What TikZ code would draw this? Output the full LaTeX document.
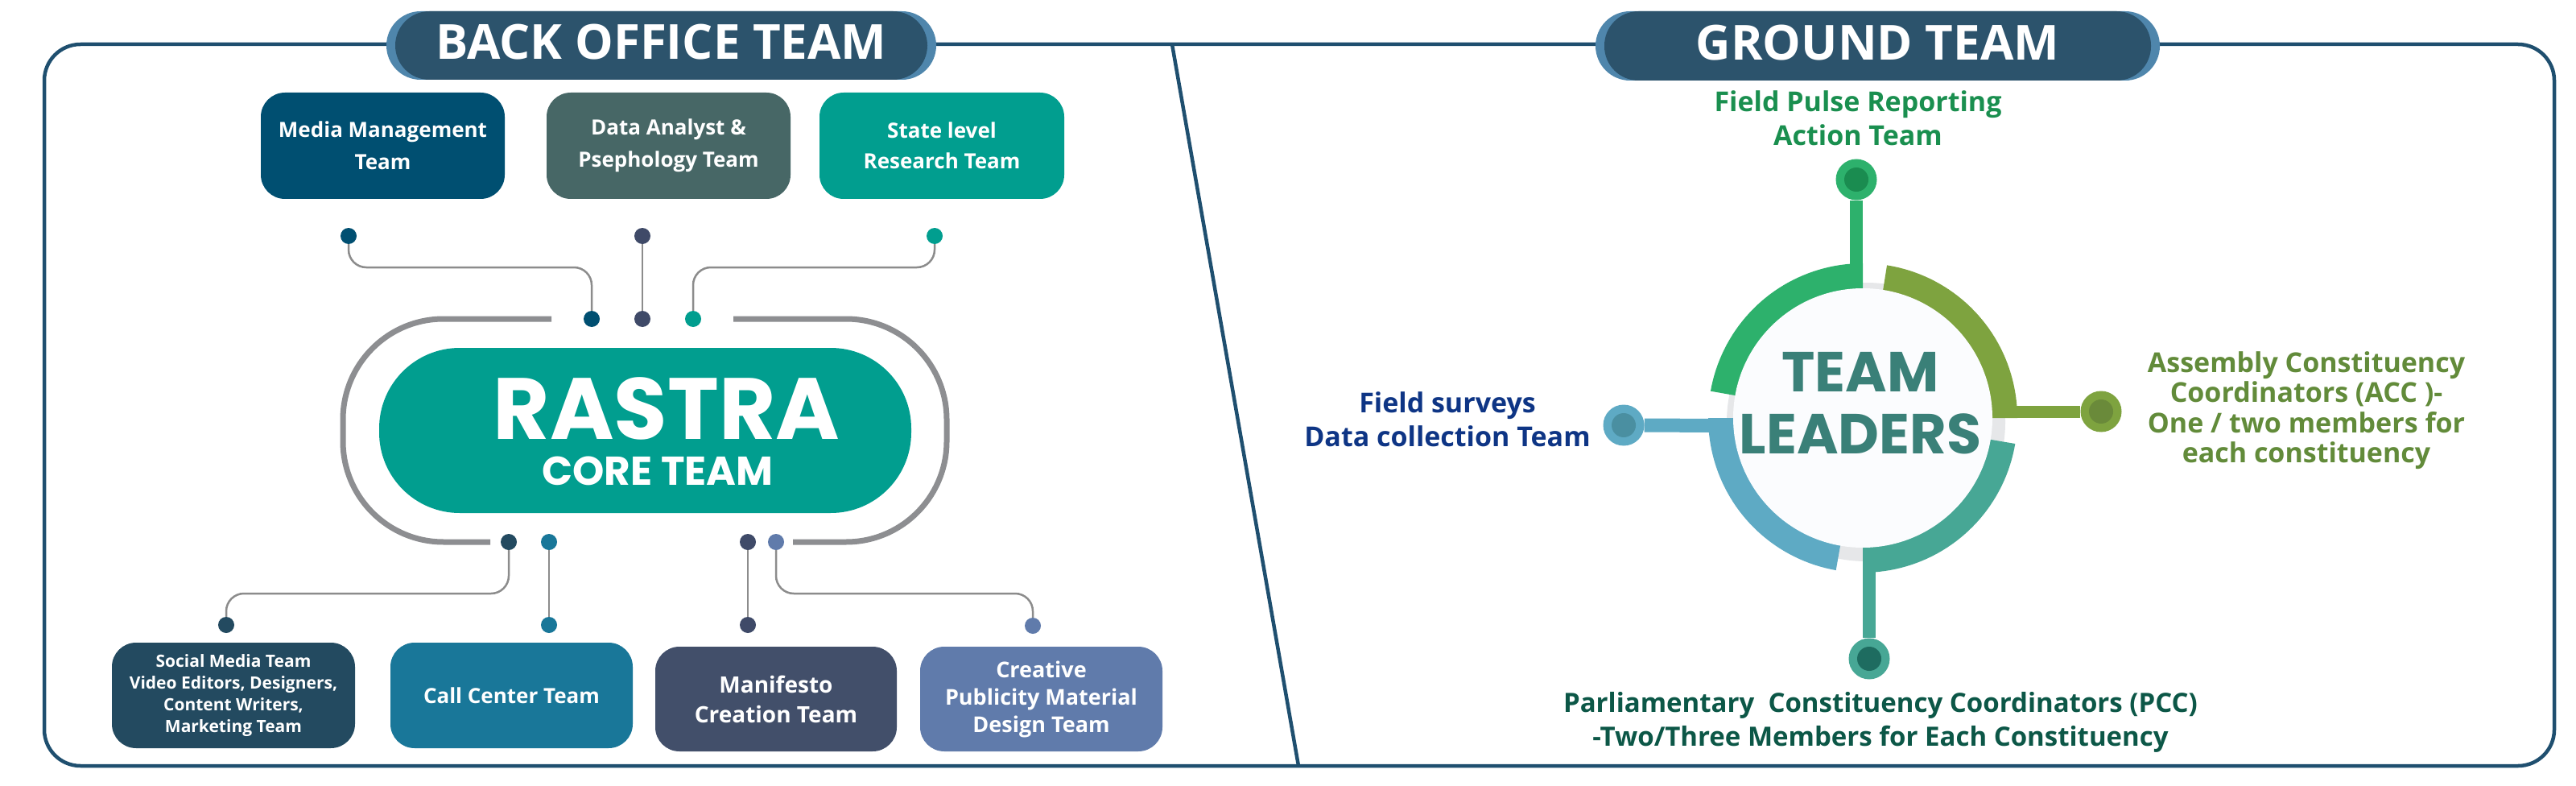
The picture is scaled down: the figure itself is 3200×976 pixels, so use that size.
\documentclass[tikz,border=0pt]{standalone}
\usepackage{fontspec}
\setmainfont{Open Sans}
\newfontfamily\poppins{Poppins}
\usetikzlibrary{calc}
\definecolor{framec}{HTML}{1F4F6F}
\definecolor{pillc}{HTML}{2C536C}
\definecolor{pilledge}{HTML}{4F86AC}
\definecolor{mediac}{HTML}{004F71}
\definecolor{datac}{HTML}{476766}
\definecolor{statec}{HTML}{019E8F}
\definecolor{socialc}{HTML}{234A60}
\definecolor{callc}{HTML}{197799}
\definecolor{manic}{HTML}{424F6A}
\definecolor{creac}{HTML}{607BAB}
\definecolor{slatec}{HTML}{3F4A68}
\definecolor{stadc}{HTML}{8D8E91}
\definecolor{connc}{HTML}{8C8C8C}
\definecolor{ringgreen}{HTML}{2DB16C}
\definecolor{ringgreend}{HTML}{1A8C50}
\definecolor{ringolive}{HTML}{7EA33F}
\definecolor{ringolived}{HTML}{6A8A3A}
\definecolor{ringteal}{HTML}{47A795}
\definecolor{ringteald}{HTML}{1E6C60}
\definecolor{ringblue}{HTML}{5EAAC4}
\definecolor{ringblued}{HTML}{4A8FA1}
\definecolor{shadowc}{HTML}{E6E7E9}
\definecolor{circlec}{HTML}{FBFCFE}
\definecolor{pulsec}{HTML}{1A8F4F}
\definecolor{surveyc}{HTML}{0E3585}
\definecolor{accc}{HTML}{628B3A}
\definecolor{pccc}{HTML}{0C5747}
\definecolor{leaderc}{HTML}{3A8078}
\begin{document}
\begin{tikzpicture}[x=1pt,y=-1pt,
  pill/.style={fill=pillc, rounded corners=42.5, text=white, inner sep=0,
    font=\bfseries\fontsize{60}{60}\selectfont, text height=43, text depth=8},
  box/.style={fill=#1, rounded corners=30, text=white, align=center, inner sep=0},
  bdot/.style={circle, fill=#1, minimum size=20, inner sep=0},
  conn/.style={connc, line width=2.5, rounded corners=22},
  stad/.style={stadc, line width=7, rounded corners=125},
  gdot/.style={circle, fill=#1, minimum size=51, inner sep=0},
  gtext/.style={align=center, anchor=north, inner sep=0}
]
\useasboundingbox (0,0) rectangle (3200,976);
\fill[white] (0,0) rectangle (3200,976);

% frame and divider
\draw[framec, line width=4.5, rounded corners=45] (55,55) rectangle (3173,951);
\coordinate (dtop) at (1456,55);
\coordinate (dbot) at (1613,951);
\draw[framec, line width=4.5] (dtop) -- (dbot);

% header pills
\fill[pilledge, rounded corners=42.5] (480,14) rectangle (1163,99);
\node[pill, minimum width=661, minimum height=85] (bo) at (821.5,56.5) {BACK OFFICE TEAM};
\fill[pilledge, rounded corners=43] (1982,14) rectangle (2683,100);
\node[pill, minimum width=679, minimum height=86] (gt) at (2332.5,57) {GROUND TEAM};

% top boxes
\node[box=mediac, minimum width=303, minimum height=132, font=\bfseries\fontsize{26}{40}\selectfont] (media) at (475.5,181) {Media Management\\Team};
\node[box=datac, minimum width=303, minimum height=132, font=\bfseries\fontsize{26}{40}\selectfont] (data) at (830.5,181) {Data Analyst \&\\Psephology Team};
\node[box=statec, minimum width=304, minimum height=132, font=\bfseries\fontsize{26}{38}\selectfont] (state) at (1170,181) {State level\\Research Team};

% stadium around core
\draw[stad] (685,396) -- (426,396) -- (426,673) -- (609,673);
\draw[stad] (911,396) -- (1176,396) -- (1176,673) -- (985,673);

% core pill
\node[fill=statec, rounded corners=100, minimum width=661, minimum height=205, inner sep=0] (core) at (801.5,534.5) {};
\node[anchor=base, text=white, inner sep=0, font=\poppins\bfseries\fontsize{108}{108}\selectfont] (rastra) at (828,545) {RASTRA};
\node[anchor=base, text=white, inner sep=0, font=\poppins\bfseries\fontsize{50}{50}\selectfont] (coreteam) at (817,602) {CORE TEAM};

% dots top
\node[bdot=mediac] (t1) at (433,293) {};
\node[bdot=slatec] (t2) at (798,293) {};
\node[bdot=statec] (t3) at (1161,293) {};
\node[bdot=mediac] (u1) at (735,396) {};
\node[bdot=slatec] (u2) at (798,396) {};
\node[bdot=statec] (u3) at (861,396) {};
\coordinate (jtl) at (600,332);
\coordinate (jtr) at (1000,332);
\draw[conn] (t1.south) |- (jtl) -| (u1.north);
\draw[conn] (t2.south) -- (u2.north);
\draw[conn] (t3.south) |- (jtr) -| (u3.north);

% dots bottom
\node[bdot=socialc] (l1) at (632,673) {};
\node[bdot=callc] (l2) at (682,673) {};
\node[bdot=slatec] (l3) at (929,673) {};
\node[bdot=creac] (l4) at (964,673) {};
\node[bdot=socialc] (m1) at (281,776) {};
\node[bdot=callc] (m2) at (682,776) {};
\node[bdot=slatec] (m3) at (929,776) {};
\node[bdot=creac] (m4) at (1283,777) {};
\coordinate (jbl) at (450,737);
\coordinate (jbr) at (1100,737);
\draw[conn] (l1.south) |- (jbl) -| (m1.north);
\draw[conn] (l2.south) -- (m2.north);
\draw[conn] (l3.south) -- (m3.north);
\draw[conn] (l4.south) |- (jbr) -| (m4.north);

% bottom boxes
\node[box=socialc, minimum width=302, minimum height=131, font=\bfseries\fontsize{21}{27}\selectfont] (social) at (290,863.5) {Social Media Team\\Video Editors, Designers,\\Content Writers,\\Marketing Team};
\node[box=callc, minimum width=301, minimum height=131, font=\bfseries\fontsize{26}{32}\selectfont] (call) at (635.5,863.5) {Call Center Team};
\node[box=manic, minimum width=300, minimum height=130, font=\bfseries\fontsize{28}{37}\selectfont] (mani) at (964,868) {Manifesto\\Creation Team};
\node[box=creac, minimum width=301, minimum height=130, font=\bfseries\fontsize{27}{34}\selectfont] (crea) at (1293.5,868) {Creative\\Publicity Material\\Design Team};

% ground team ring
\fill[shadowc] (2318,524) circle[radius=173];
\fill[ringgreen] plot[domain=90:170, samples=40] ({2314+192*cos(\x)},{519-192*sin(\x)})
  -- plot[domain=170:90, samples=40] ({2314+159*cos(\x)},{519-159*sin(\x)}) -- cycle;
\fill[ringolive] plot[domain=0:81, samples=40] ({2314+192*cos(\x)},{519-192*sin(\x)})
  -- plot[domain=81:0, samples=40] ({2314+159*cos(\x)},{519-159*sin(\x)}) -- cycle;
\fill[ringteal] plot[domain=-90:-9.6, samples=40] ({2314+192*cos(\x)},{519-192*sin(\x)})
  -- plot[domain=-9.6:-90, samples=40] ({2314+159*cos(\x)},{519-159*sin(\x)}) -- cycle;
\fill[ringblue] plot[domain=180:260, samples=40] ({2314+192*cos(\x)},{519-192*sin(\x)})
  -- plot[domain=260:180, samples=40] ({2314+159*cos(\x)},{519-159*sin(\x)}) -- cycle;

% stems and end dots
\node[gdot=ringgreen] (gd) at (2306,223) {};
\node[gdot=ringolive] (od) at (2610,511) {};
\node[gdot=ringteal] (td) at (2322,818) {};
\node[gdot=ringblue] (bd) at (2017,528) {};
\coordinate (gs) at (2306,340);
\coordinate (os) at (2495,511);
\coordinate (ts) at (2322,700);
\coordinate (bs) at (2132,528.5);
\draw[ringgreen, line width=16] (gd.south) -- (gs);
\draw[ringolive, line width=15] (od.west) -- (os);
\draw[ringteal, line width=16] (td.north) -- (ts);
\draw[ringblue, line width=17] (bd.east) -- (bs);
\fill[ringgreend] (gd) circle[radius=15];
\fill[ringolived] (od) circle[radius=15];
\fill[ringteald] (td) circle[radius=15];
\fill[ringblued] (bd) circle[radius=15];

% centre circle
\node[circle, fill=circlec, minimum size=322, inner sep=0] (tl) at (2314,519) {};
\node[gtext, text=leaderc, font=\poppins\bfseries\fontsize{70}{77}\selectfont] (leaders) at (2311,432.1) {\strut TEAM\\\strut LEADERS};

% ground texts
\node[gtext, text=pulsec, font=\bfseries\fontsize{34}{42}\selectfont] (pulse) at (2308,108.6) {\strut Field Pulse Reporting\\\strut Action Team};
\node[gtext, text=surveyc, font=\bfseries\fontsize{34}{42}\selectfont] (survey) at (1798,482.6) {\strut Field surveys\\\strut Data collection Team};
\node[gtext, text=accc, font=\bfseries\fontsize{34}{37}\selectfont] (acc) at (2865,436.1) {\strut Assembly Constituency\\\strut Coordinators (ACC )-\\\strut One / two members for\\\strut each constituency};
\node[gtext, text=pccc, font=\bfseries\fontsize{33}{42}\selectfont] (pcc) at (2336,854.6) {\strut Parliamentary\ \ Constituency Coordinators (PCC)\\\strut -Two/Three Members for Each Constituency};
\end{tikzpicture}
\end{document}
